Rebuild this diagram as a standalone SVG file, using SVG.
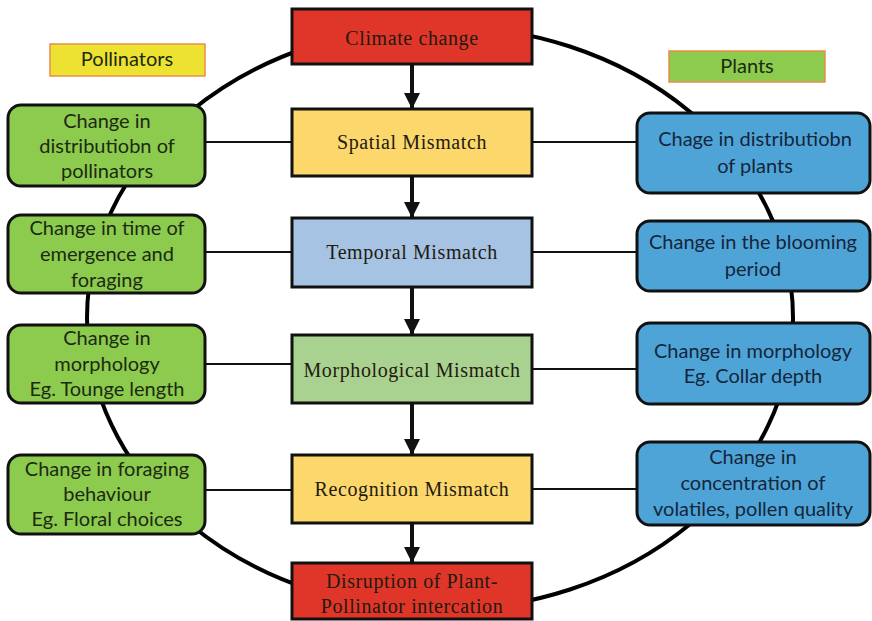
<svg xmlns="http://www.w3.org/2000/svg" width="872" height="621" viewBox="0 0 872 621">
  <style>
    .side { stroke: #111; stroke-width: 3; }
    .poll { fill: #8dcb4f; }
    .plant { fill: #4fa4d7; }
    .mid { stroke: #111; stroke-width: 3; }
    .tag { stroke: #ec8c48; stroke-width: 1.5; }
    .st { font-family: Lato, "Open Sans", sans-serif; font-size: 20px; text-anchor: middle; }
    .pt { fill: #1c2a12; }
    .bt { fill: #14263a; }
    .mt { font-family: "Liberation Serif", serif; font-size: 20px; text-anchor: middle; fill: #231a10; letter-spacing: 0.6px; }
    .link { stroke: #111; stroke-width: 2; }
    .flow { stroke: #111; stroke-width: 4; }
  </style>
  <defs>
    <marker id="arrow" markerUnits="userSpaceOnUse" markerWidth="16" markerHeight="16" viewBox="0 0 16 16" refX="15" refY="8" orient="auto">
      <polygon points="0,0 16,8 0,16" fill="#111"/>
    </marker>
  </defs>
  <rect width="872" height="621" fill="#fff"/>

  <g id="connectors" fill="none">
    <ellipse cx="440" cy="318" rx="353" ry="292" stroke="#000" stroke-width="4"/>
    <line class="link" x1="205" y1="142" x2="292" y2="142"/>
    <line class="link" x1="532" y1="142" x2="637" y2="142"/>
    <line class="link" x1="205" y1="252" x2="292" y2="252"/>
    <line class="link" x1="532" y1="252" x2="637" y2="252"/>
    <line class="link" x1="205" y1="364" x2="292" y2="364"/>
    <line class="link" x1="532" y1="369" x2="637" y2="369"/>
    <line class="link" x1="205" y1="490" x2="292" y2="490"/>
    <line class="link" x1="532" y1="489" x2="637" y2="489"/>
    <line class="flow" x1="412" y1="64" x2="412" y2="108" marker-end="url(#arrow)"/>
    <line class="flow" x1="412" y1="176" x2="412" y2="217" marker-end="url(#arrow)"/>
    <line class="flow" x1="412" y1="287" x2="412" y2="334" marker-end="url(#arrow)"/>
    <line class="flow" x1="412" y1="403" x2="412" y2="454" marker-end="url(#arrow)"/>
    <line class="flow" x1="412" y1="523" x2="412" y2="562" marker-end="url(#arrow)"/>
  </g>

  <g id="label-pollinators">
    <rect class="tag" x="50" y="44" width="155" height="32" fill="#ede231"/>
    <text class="st pt" x="127" y="66" font-size="19">Pollinators</text>
  </g>
  <g id="label-plants">
    <rect class="tag" x="669" y="51" width="156" height="31" fill="#8dcb4f"/>
    <text class="st pt" x="747" y="73" font-size="19">Plants</text>
  </g>

  <g id="climate-change">
    <rect class="mid" x="292" y="9" width="240" height="55" fill="#e0362a"/>
    <text class="mt" x="412" y="45">Climate change</text>
  </g>
  <g id="spatial-mismatch">
    <rect class="mid" x="292" y="109" width="240" height="67" fill="#fcd76c"/>
    <text class="mt" x="412" y="149">Spatial Mismatch</text>
  </g>
  <g id="temporal-mismatch">
    <rect class="mid" x="292" y="218" width="240" height="69" fill="#a6c3e3"/>
    <text class="mt" x="412" y="259">Temporal Mismatch</text>
  </g>
  <g id="morphological-mismatch">
    <rect class="mid" x="292" y="335" width="240" height="68" fill="#a9d18f"/>
    <text class="mt" x="412" y="377">Morphological Mismatch</text>
  </g>
  <g id="recognition-mismatch">
    <rect class="mid" x="292" y="455" width="240" height="68" fill="#fcd76c"/>
    <text class="mt" x="412" y="496">Recognition Mismatch</text>
  </g>
  <g id="disruption">
    <rect class="mid" x="292" y="563" width="240" height="56" fill="#e0362a"/>
    <text class="mt" x="412" y="588">Disruption of Plant-</text>
    <text class="mt" x="412" y="613">Pollinator intercation</text>
  </g>

  <g id="poll-distribution">
    <rect class="side poll" x="8" y="105" width="197" height="81" rx="13"/>
    <text class="st pt" x="107" y="128">Change in</text>
    <text class="st pt" x="107" y="153">distributiobn of</text>
    <text class="st pt" x="107" y="178">pollinators</text>
  </g>
  <g id="poll-emergence">
    <rect class="side poll" x="8" y="215" width="197" height="78" rx="13"/>
    <text class="st pt" x="107" y="235">Change in time of</text>
    <text class="st pt" x="107" y="261">emergence and</text>
    <text class="st pt" x="107" y="287">foraging</text>
  </g>
  <g id="poll-morphology">
    <rect class="side poll" x="8" y="325" width="197" height="78" rx="13"/>
    <text class="st pt" x="107" y="345">Change in</text>
    <text class="st pt" x="107" y="371">morphology</text>
    <text class="st pt" x="107" y="396">Eg. Tounge length</text>
  </g>
  <g id="poll-foraging">
    <rect class="side poll" x="8" y="455" width="197" height="79" rx="13"/>
    <text class="st pt" x="107" y="476">Change in foraging</text>
    <text class="st pt" x="107" y="501">behaviour</text>
    <text class="st pt" x="107" y="526">Eg. Floral choices</text>
  </g>

  <g id="plant-distribution">
    <rect class="side plant" x="637" y="113" width="233" height="80" rx="13"/>
    <text class="st bt" x="755" y="146">Chage in distributiobn</text>
    <text class="st bt" x="755" y="173">of plants</text>
  </g>
  <g id="plant-blooming">
    <rect class="side plant" x="637" y="221" width="233" height="70" rx="13"/>
    <text class="st bt" x="753" y="249">Change in the blooming</text>
    <text class="st bt" x="753" y="276">period</text>
  </g>
  <g id="plant-morphology">
    <rect class="side plant" x="637" y="323" width="233" height="81" rx="13"/>
    <text class="st bt" x="753" y="358">Change in morphology</text>
    <text class="st bt" x="753" y="383">Eg. Collar depth</text>
  </g>
  <g id="plant-volatiles">
    <rect class="side plant" x="637" y="442" width="233" height="83" rx="13"/>
    <text class="st bt" x="753" y="464">Change in</text>
    <text class="st bt" x="753" y="490">concentration of</text>
    <text class="st bt" x="753" y="516">volatiles, pollen quality</text>
  </g>
</svg>
